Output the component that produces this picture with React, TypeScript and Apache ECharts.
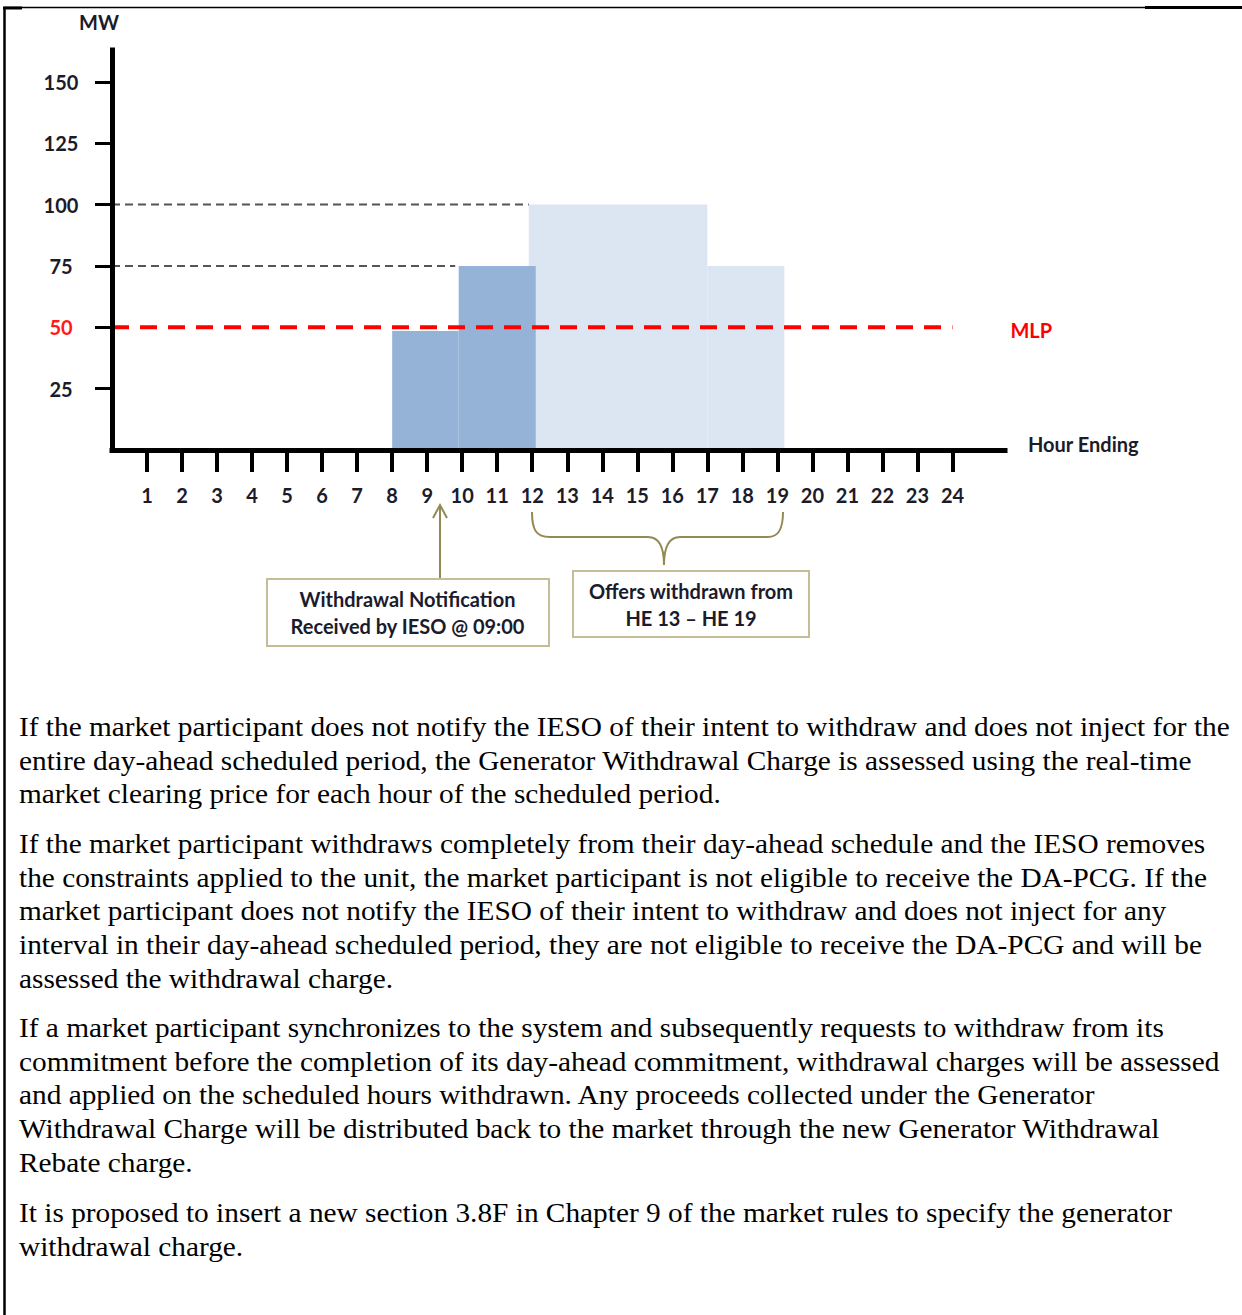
import React, { useEffect, useRef } from "react";
import * as echarts from "echarts";

// ---------- data ----------
const hourTicks = [1, 2, 3, 4, 5, 6, 7, 8, 9, 10, 11, 12, 13, 14, 15, 16, 17, 18, 19, 20, 21, 22, 23, 24];
const mwTicks = [25, 50, 75, 100, 125, 150];
const mlpLevel = 50;
// [startHour, endHour, MW]
const scheduledInjected = [
  [8, 9.9, 48.5],
  [9.9, 12.1, 75],
];
const offersWithdrawn = [
  [11.9, 17, 100],
  [17, 19.2, 75],
];
const guide100 = [
  [0, 100],
  [11.9, 100],
];
const guide75 = [
  [0, 75],
  [9.8, 75],
];
const mlpLine = [
  [0, mlpLevel],
  [24, mlpLevel],
];

const para1 = [
  "If the market participant does not notify the IESO of their intent to withdraw and does not inject for the",
  "entire day-ahead scheduled period, the Generator Withdrawal Charge is assessed using the real-time",
  "market clearing price for each hour of the scheduled period.",
];
const para2 = [
  "If the market participant withdraws completely from their day-ahead schedule and the IESO removes",
  "the constraints applied to the unit, the market participant is not eligible to receive the DA-PCG. If the",
  "market participant does not notify the IESO of their intent to withdraw and does not inject for any",
  "interval in their day-ahead scheduled period, they are not eligible to receive the DA-PCG and will be",
  "assessed the withdrawal charge.",
];
const para3 = [
  "If a market participant synchronizes to the system and subsequently requests to withdraw from its",
  "commitment before the completion of its day-ahead commitment, withdrawal charges will be assessed",
  "and applied on the scheduled hours withdrawn. Any proceeds collected under the Generator",
  "Withdrawal Charge will be distributed back to the market through the new Generator Withdrawal",
  "Rebate charge.",
];
const para4 = [
  "It is proposed to insert a new section 3.8F in Chapter 9 of the market rules to specify the generator",
  "withdrawal charge.",
];
const paragraphs = [para1, para2, para3, para4];
const paragraphCenters = [726, 843, 1027, 1212];

const noteLeft = ["Withdrawal Notification", "Received by IESO @ 09:00"];
const noteRight = ["Offers withdrawn from", "HE 13 \u2013 HE 19"];

// ---------- styles ----------
const LABEL_FONT = "Lato";
const LABEL_SIZE = 20;
const LABEL_COLOR = "#1b1b2b";
const ANNO_COLOR = "#938953";
const BOX_COLOR = "#C4BD97";
const LINE_H = 33.8;

const braceD =
  "M532 512 C532 530 536 537 550 537 L648 537 C658 537 664 545 664 565 C664 545 670 537 680 537 L768 537 C778 537 783 530 783 512";
let registered = false;
function ensureShapes() {
  if (registered) return;
  echarts.graphic.registerShape("brace", echarts.graphic.extendPath(braceD, {}));
  registered = true;
}

function blockSeries(name: string, data: number[][], color: string, z: number) {
  return {
    type: "custom",
    name,
    data,
    z,
    silent: true,
    encode: { x: [0, 1], y: 2 },
    renderItem: (params: any, api: any) => {
      const topLeft = api.coord([api.value(0), api.value(2)]);
      const bottomRight = api.coord([api.value(1), 0]);
      return {
        type: "rect",
        shape: {
          x: topLeft[0],
          y: topLeft[1],
          width: bottomRight[0] - topLeft[0],
          height: bottomRight[1] - topLeft[1],
        },
        style: { fill: color },
      };
    },
  };
}

function guideSeries(name: string, data: number[][]) {
  return {
    type: "line",
    name,
    data,
    z: 4,
    symbol: "none",
    silent: true,
    lineStyle: { color: "#555555", width: 2, type: [8, 5] },
  };
}

export default function App() {
  const ref = useRef<HTMLDivElement>(null);

  useEffect(() => {
    if (!ref.current) return;
    ensureShapes();
    const chart = echarts.init(ref.current, undefined, { renderer: "svg" });

    const textElems: any[] = paragraphs.map((lines, i) => ({
      type: "text",
      x: 19,
      y: paragraphCenters[i] - LINE_H / 2,
      scaleX: 1.048,
      style: {
        text: lines.join("\n"),
        fontFamily: "Liberation Serif",
        fontSize: 28,
        lineHeight: LINE_H,
        fill: "#000",
        textAlign: "left",
        textVerticalAlign: "top",
      },
    }));

    const labelText = (text: string, x: number, y: number, align: string, fill = LABEL_COLOR) => ({
      type: "text",
      x,
      y,
      z: 20,
      style: {
        text,
        fontFamily: LABEL_FONT,
        fontWeight: "bold",
        fontSize: LABEL_SIZE,
        fill,
        textAlign: align,
        textVerticalAlign: "middle",
      },
    });

    const boxText = (lines: string[], cx: number, cy: number) => ({
      type: "text",
      x: cx,
      y: cy,
      z: 20,
      style: {
        text: lines.join("\n"),
        fontFamily: LABEL_FONT,
        fontWeight: "bold",
        fontSize: LABEL_SIZE,
        lineHeight: 27,
        fill: LABEL_COLOR,
        textAlign: "center",
        textVerticalAlign: "middle",
      },
    });

    chart.setOption({
      animation: false,
      backgroundColor: "#fff",
      grid: { left: 112, top: 50, width: 893, height: 400, containLabel: false },
      xAxis: {
        type: "value",
        min: 0,
        max: 25.5,
        z: 10,
        axisLine: { show: true, onZero: true, lineStyle: { color: "#000", width: 5, cap: "square" } },
        axisTick: { show: true, length: 22, lineStyle: { color: "#000", width: 4 }, customValues: hourTicks },
        axisLabel: {
          customValues: hourTicks,
          margin: 35,
          fontFamily: LABEL_FONT,
          fontWeight: "bold",
          fontSize: LABEL_SIZE,
          color: LABEL_COLOR,
        },
        splitLine: { show: false },
      },
      yAxis: {
        type: "value",
        min: 0,
        max: 163,
        interval: 25,
        z: 10,
        axisLine: { show: true, lineStyle: { color: "#000", width: 5, cap: "square" } },
        axisTick: { show: true, length: 17, lineStyle: { color: "#000", width: 3 }, customValues: mwTicks },
        axisLabel: {
          customValues: mwTicks,
          margin: 51,
          align: "center",
          fontFamily: LABEL_FONT,
          fontWeight: "bold",
          fontSize: LABEL_SIZE,
          color: (v: any) => (Number(v) === mlpLevel ? "#FF1A1A" : LABEL_COLOR),
        },
        splitLine: { show: false },
      },
      series: [
        blockSeries("Offers withdrawn", offersWithdrawn, "#DCE6F2", 1),
        blockSeries("Scheduled injection", scheduledInjected, "#95B3D7", 2),
        guideSeries("100 MW", guide100),
        guideSeries("75 MW", guide75),
        {
          type: "line",
          name: "MLP",
          data: mlpLine,
          z: 6,
          symbol: "none",
          silent: true,
          lineStyle: { color: "#FF0000", width: 4, type: [17, 11] },
          endLabel: {
            show: true,
            formatter: "MLP",
            distance: 58,
            offset: [0, 3],
            color: "#FF0000",
            fontFamily: LABEL_FONT,
            fontWeight: "bold",
            fontSize: LABEL_SIZE,
          },
        },
      ],
      graphic: [
        // page frame
        { type: "line", shape: { x1: 4, y1: 7.5, x2: 1242, y2: 7.5 }, style: { stroke: "#000", lineWidth: 1.5 } },
        { type: "line", shape: { x1: 3, y1: 8, x2: 22, y2: 8 }, style: { stroke: "#000", lineWidth: 3 } },
        { type: "line", shape: { x1: 1145, y1: 7.5, x2: 1242, y2: 7.5 }, style: { stroke: "#000", lineWidth: 3 } },
        { type: "line", shape: { x1: 4.5, y1: 7, x2: 4.5, y2: 1315 }, style: { stroke: "#000", lineWidth: 2.5 } },
        // axis titles
        labelText("MW", 99, 22, "center"),
        labelText("Hour Ending", 1028, 444, "left"),
        // notification arrow
        { type: "line", shape: { x1: 440, y1: 579, x2: 440, y2: 506 }, style: { stroke: ANNO_COLOR, lineWidth: 2 } },
        {
          type: "polyline",
          shape: { points: [[433, 518], [440, 505], [447, 518]] },
          style: { stroke: ANNO_COLOR, lineWidth: 2, fill: null },
        },
        // brace
        { type: "brace", x: 0, y: 0, style: { stroke: ANNO_COLOR, lineWidth: 2, fill: null } },
        // boxes
        {
          type: "rect",
          shape: { x: 267, y: 579, width: 282, height: 67 },
          style: { stroke: BOX_COLOR, lineWidth: 2, fill: "#fff" },
          z: 15,
        },
        boxText(noteLeft, 407.5, 612),
        {
          type: "rect",
          shape: { x: 573, y: 571, width: 236, height: 66 },
          style: { stroke: BOX_COLOR, lineWidth: 2, fill: "#fff" },
          z: 15,
        },
        boxText(noteRight, 691, 604),
        ...textElems,
      ],
    });

    return () => chart.dispose();
  }, []);

  return (
    <div style={{ position: "absolute", left: 0, top: 0, width: 1242, height: 1315, background: "#fff" }}>
      <div ref={ref} style={{ width: 1242, height: 1315 }} />
    </div>
  );
}
